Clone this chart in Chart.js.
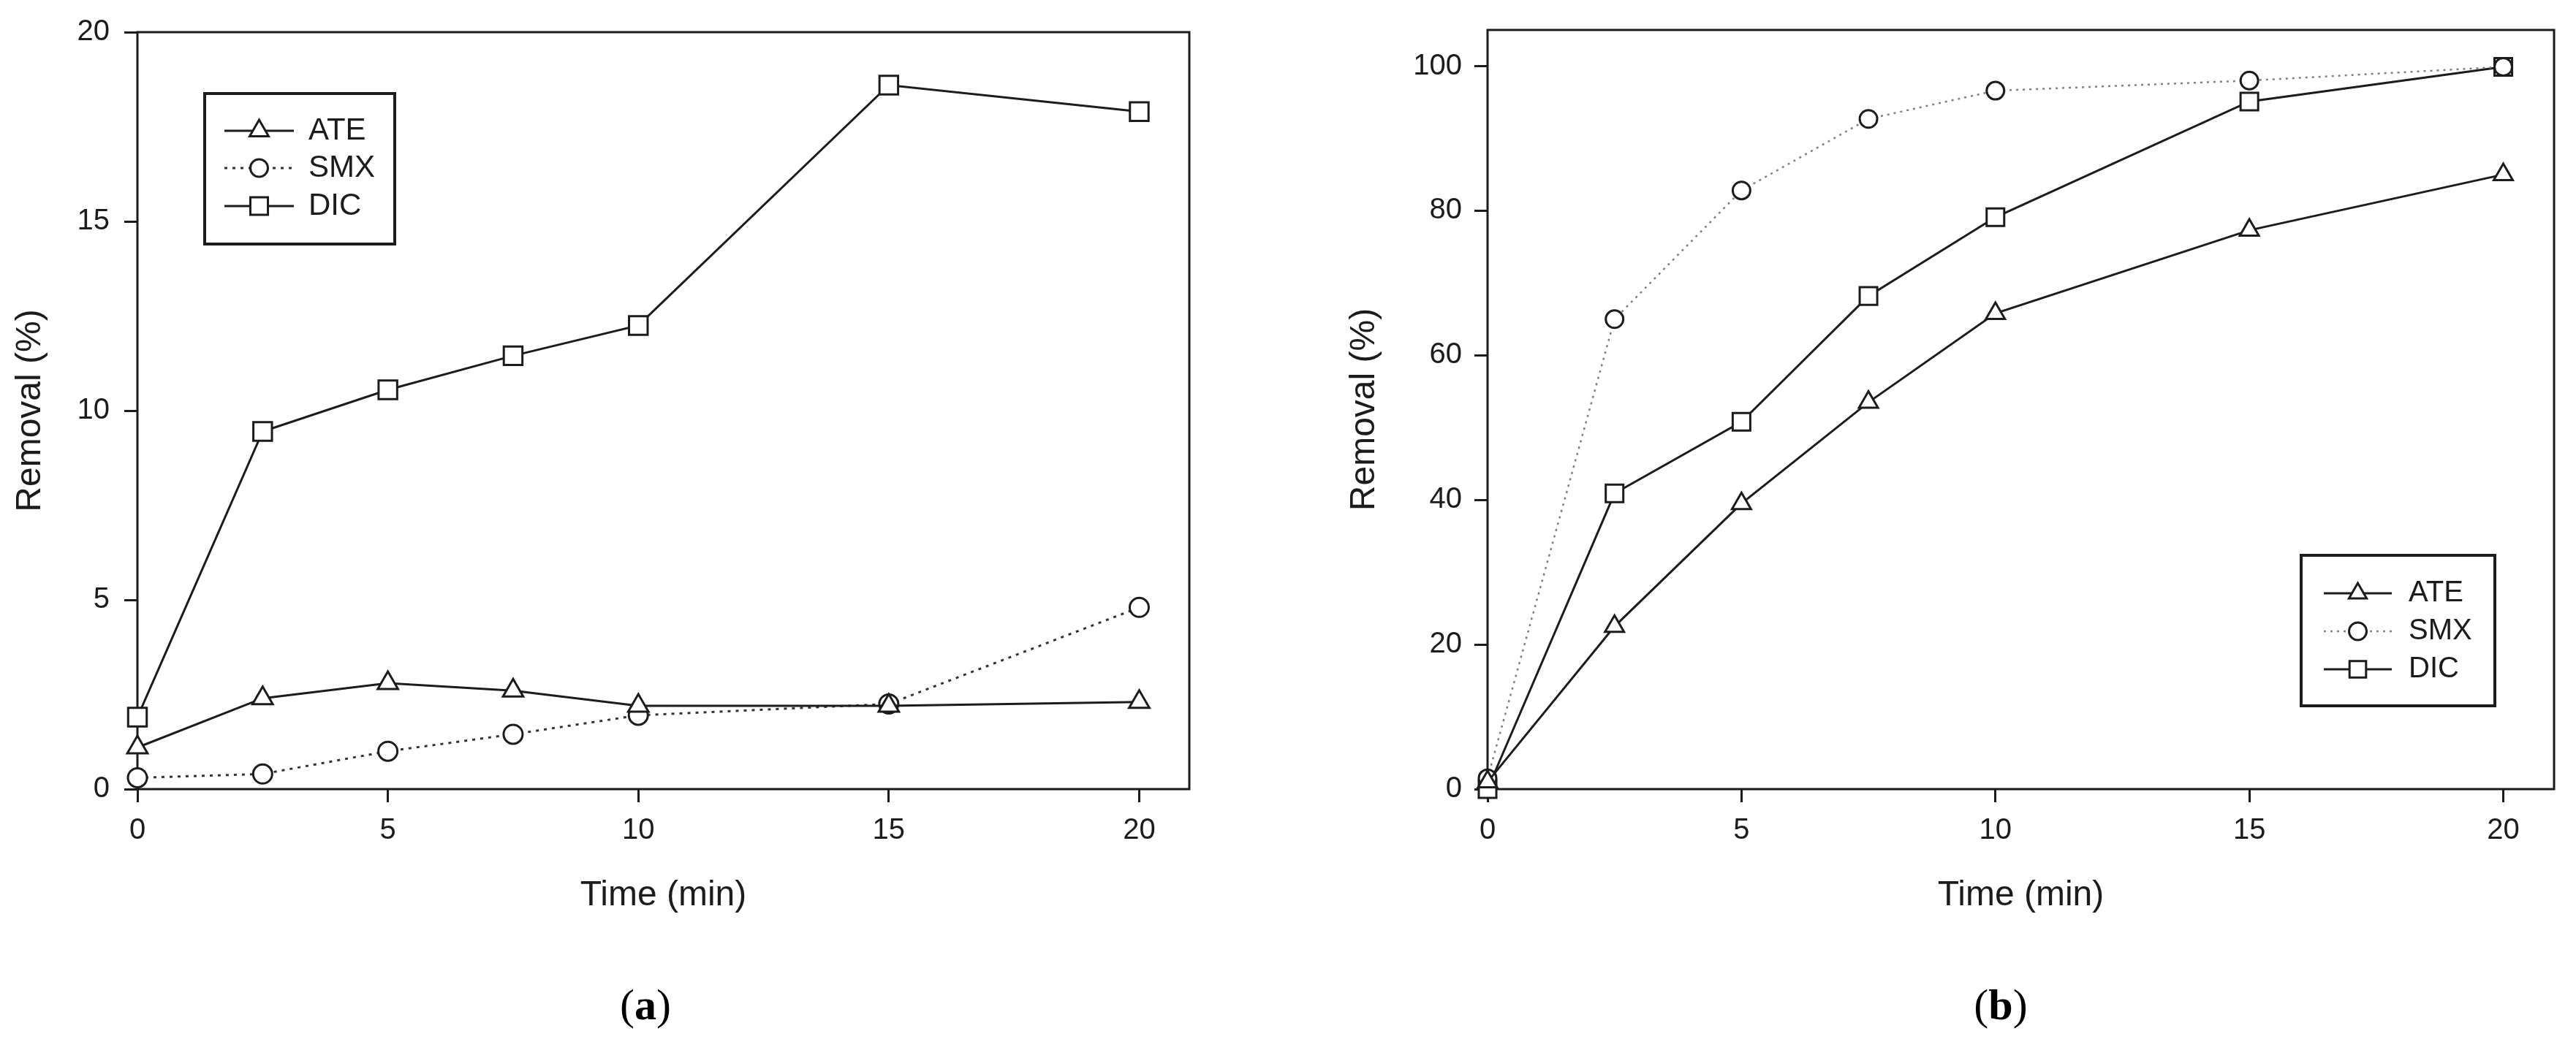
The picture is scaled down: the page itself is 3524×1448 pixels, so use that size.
<!DOCTYPE html>
<html>
<head>
<meta charset="utf-8">
<script src="https://cdn.jsdelivr.net/npm/chart.js@4.4.1/dist/chart.umd.min.js"></script>
<style>
  html, body { margin: 0; padding: 0; background: #fff; }
  body { width: 3524px; height: 1448px; position: relative; overflow: hidden; }
  .panel { position: absolute; top: 0; height: 1300px; }
  .cap { position: absolute; top: 1375px; transform: translate(-50%, -50%);
         font-family: "Liberation Serif", "DejaVu Serif", serif; font-size: 60px; color: #000; }
</style>
</head>
<body>
<div class="panel" style="left:0; width:1700px;"><canvas id="chartA"></canvas></div>
<div class="panel" style="left:1760px; width:1764px;"><canvas id="chartB"></canvas></div>
<div class="cap" style="left:883px;">(<b>a</b>)</div>
<div class="cap" style="left:2737px;">(<b>b</b>)</div>
<script>
// sampling times (min)
const timeMin = [0, 2.5, 5, 7.5, 10, 15, 20];
const seriesNames = ['ATE', 'SMX', 'DIC'];

// panel (a) removal %
const ateA = [1.1, 2.4, 2.8, 2.6, 2.2, 2.2, 2.3];
const smxA = [0.3, 0.4, 1.0, 1.45, 1.95, 2.25, 4.8];
const dicA = [1.9, 9.45, 10.55, 11.45, 12.25, 18.6, 17.9];

// panel (b) removal %
const ateB = [1, 22.5, 39.5, 53.5, 65.8, 77.3, 85];
const smxB = [1.5, 65, 82.8, 92.7, 96.6, 98, 99.9];
const dicB = [0, 40.9, 50.8, 68.2, 79.1, 95.1, 99.9];

const xTicksA = [0, 5, 10, 15, 20];
const yTicksA = [0, 5, 10, 15, 20];
const yTicksB = [0, 20, 40, 60, 80, 100];

const INK = '#1c1c1c';
const SANS = "'Liberation Sans', Arial, sans-serif";

function pts(ys) {
  return timeMin.map((t, i) => ({x: t, y: ys[i]}));
}

function drawMarker(ctx, style, x, y, r) {
  ctx.beginPath();
  if (style === 'circle') {
    ctx.arc(x, y, r, 0, Math.PI * 2);
  } else if (style === 'rect') {
    const s = r * Math.SQRT1_2;
    ctx.rect(x - s, y - s, 2 * s, 2 * s);
  } else {
    for (let k = 0; k < 3; k++) {
      const a = k * 2 * Math.PI / 3;
      const px = x + Math.sin(a) * r, py = y - Math.cos(a) * r;
      if (k === 0) ctx.moveTo(px, py); else ctx.lineTo(px, py);
    }
    ctx.closePath();
  }
  ctx.fillStyle = '#fff';
  ctx.fill();
  ctx.stroke();
}

// frame round the plot area
const frameBox = {
  id: 'frameBox',
  beforeDatasetsDraw(chart) {
    const {ctx, chartArea: a} = chart;
    ctx.save();
    ctx.strokeStyle = INK;
    ctx.lineWidth = 3;
    ctx.strokeRect(a.left, a.top, a.right - a.left, a.bottom - a.top);
    ctx.restore();
  }
};

// SigmaPlot style legend: line - marker - line, then name
const boxLegend = {
  id: 'boxLegend',
  afterDatasetsDraw(chart, args, opts) {
    const ctx = chart.ctx;
    ctx.save();
    ctx.fillStyle = '#fff';
    ctx.fillRect(opts.x, opts.y, opts.w, opts.h);
    ctx.strokeStyle = INK;
    ctx.lineWidth = 4;
    ctx.strokeRect(opts.x, opts.y, opts.w, opts.h);
    chart.data.datasets.forEach((ds, i) => {
      const cy = opts.rowY[i];
      ctx.strokeStyle = ds.borderColor;
      ctx.lineWidth = ds.borderWidth;
      ctx.setLineDash(ds.borderDash || []);
      ctx.beginPath();
      ctx.moveTo(opts.lineX0, cy);
      ctx.lineTo(opts.lineX1, cy);
      ctx.stroke();
      ctx.setLineDash([]);
      ctx.strokeStyle = INK;
      ctx.lineWidth = 3;
      drawMarker(ctx, ds.pointStyle, (opts.lineX0 + opts.lineX1) / 2, cy, opts.markR[i]);
      ctx.fillStyle = INK;
      ctx.font = opts.font;
      ctx.textBaseline = 'middle';
      ctx.fillText(ds.label, opts.textX, cy);
    });
    ctx.restore();
  }
};

function makeSets(ate, smx, dic, smxColor, smxDash, smxWidth, r) {
  return [
    {label: seriesNames[0], data: pts(ate), borderColor: INK, borderWidth: 3,
     pointStyle: 'triangle', pointRadius: r[0]},
    {label: seriesNames[1], data: pts(smx), borderColor: smxColor, borderWidth: smxWidth,
     borderDash: smxDash, pointStyle: 'circle', pointRadius: r[1]},
    {label: seriesNames[2], data: pts(dic), borderColor: INK, borderWidth: 3,
     pointStyle: 'rect', pointRadius: r[2]}
  ].map(d => Object.assign(d, {
    pointBackgroundColor: '#fff', pointBorderColor: INK, pointBorderWidth: 3,
    pointHoverRadius: d.pointRadius, fill: false, tension: 0, clip: false
  }));
}

function axis(opts) {
  return {
    type: 'linear',
    min: opts.min, max: opts.max,
    afterBuildTicks: s => { s.ticks = opts.ticks.map(v => ({value: v})); },
    afterFit: s => { if (opts.width) s.width = opts.width; if (opts.height) s.height = opts.height; },
    border: {display: false},
    grid: {display: true, drawOnChartArea: false, drawTicks: true, tickLength: 18,
           tickWidth: 3, tickColor: INK},
    ticks: {color: INK, font: {family: SANS, size: 40}, padding: opts.pad},
    title: {display: true, text: opts.title, color: INK, font: {family: SANS, size: 48},
            padding: opts.titlePad}
  };
}

function build(id, sets, layoutPad, xAxis, yAxis, legendOpts) {
  return new Chart(document.getElementById(id), {
    type: 'line',
    data: {datasets: sets},
    options: {
      responsive: true,
      maintainAspectRatio: false,
      animation: false,
      events: [],
      layout: {padding: layoutPad},
      scales: {x: xAxis, y: yAxis},
      plugins: {legend: {display: false}, tooltip: {enabled: false}, boxLegend: legendOpts}
    },
    plugins: [frameBox, boxLegend]
  });
}

build('chartA',
  makeSets(ateA, smxA, dicA, '#333', [4, 7], 3, [16, 13, 18]),
  {top: 38, right: 73, left: 0, bottom: 0},
  axis({min: 0, max: 21, ticks: xTicksA, height: 220, pad: 15, title: 'Time (min)', titlePad: {bottom: 45}}),
  axis({min: 0, max: 20, ticks: yTicksA, width: 188, pad: 20, title: 'Removal (%)', titlePad: {top: 13}}),
  {x: 280, y: 128, w: 260, h: 206, rowY: [179, 230, 282], lineX0: 307, lineX1: 402,
   textX: 422, markR: [15, 12, 17], font: '42px ' + SANS}
);

build('chartB',
  makeSets(ateB, smxB, dicB, '#808080', [3, 6], 2.5, [15, 12, 17]),
  {top: 29, right: 30, left: 0, bottom: 0},
  axis({min: 0, max: 21, ticks: xTicksA, height: 220, pad: 15, title: 'Time (min)', titlePad: {bottom: 45}}),
  axis({min: 0, max: 105, ticks: yTicksB, width: 275, pad: 17, title: 'Removal (%)', titlePad: {top: 78}}),
  {x: 1388, y: 760, w: 265, h: 206, rowY: [812, 864, 916], lineX0: 1419, lineX1: 1512,
   textX: 1535, markR: [14, 12, 16], font: '40px ' + SANS}
);
</script>
</body>
</html>
